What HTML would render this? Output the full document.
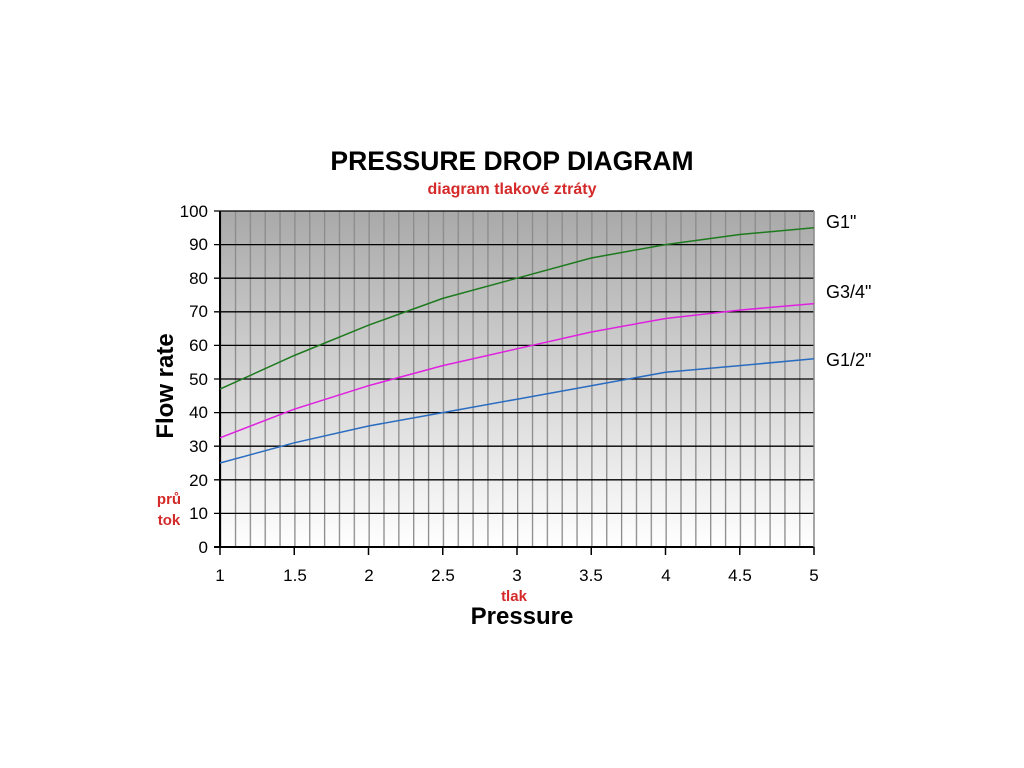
<!DOCTYPE html>
<html><head><meta charset="utf-8"><style>
html,body{margin:0;padding:0;background:#fff;width:1024px;height:768px;overflow:hidden}
</style></head><body>
<svg width="1024" height="768" xmlns="http://www.w3.org/2000/svg" font-family="Liberation Sans, Arial, sans-serif">
<defs>
<linearGradient id="bg" x1="0" y1="0" x2="0" y2="1">
<stop offset="0" stop-color="#a9a9a9"/><stop offset="1" stop-color="#ffffff"/>
</linearGradient>
<pattern id="vg" x="220" y="0" width="14.85" height="768" patternUnits="userSpaceOnUse">
<rect x="0" y="0" width="1.3" height="768" fill="#8a8a8a"/>
</pattern>
</defs>
<text x="512" y="170" text-anchor="middle" font-size="26.5" font-weight="bold">PRESSURE DROP DIAGRAM</text>
<text x="512" y="194" text-anchor="middle" font-size="16" font-weight="bold" fill="#d42a2a">diagram tlakové ztráty</text>
<rect x="220" y="211" width="594" height="336" fill="url(#bg)"/>
<rect x="220" y="211" width="594" height="336" fill="url(#vg)"/>
<g stroke="#000" stroke-width="1.3">
<line x1="214" y1="211" x2="814" y2="211"/>
<line x1="214" y1="244.6" x2="814" y2="244.6"/>
<line x1="214" y1="278.2" x2="814" y2="278.2"/>
<line x1="214" y1="311.8" x2="814" y2="311.8"/>
<line x1="214" y1="345.4" x2="814" y2="345.4"/>
<line x1="214" y1="379" x2="814" y2="379"/>
<line x1="214" y1="412.6" x2="814" y2="412.6"/>
<line x1="214" y1="446.2" x2="814" y2="446.2"/>
<line x1="214" y1="479.8" x2="814" y2="479.8"/>
<line x1="214" y1="513.4" x2="814" y2="513.4"/>
<line x1="214" y1="547" x2="814" y2="547" stroke-width="2"/>
<line x1="220" y1="211" x2="220" y2="547" stroke-width="2"/>
</g>
<line x1="814" y1="211" x2="814" y2="547" stroke="#888" stroke-width="1.5"/>
<g stroke="#000" stroke-width="1.5">
<line x1="220" y1="547" x2="220" y2="555"/><line x1="294.25" y1="547" x2="294.25" y2="555"/>
<line x1="368.5" y1="547" x2="368.5" y2="555"/><line x1="442.75" y1="547" x2="442.75" y2="555"/>
<line x1="517" y1="547" x2="517" y2="555"/><line x1="591.25" y1="547" x2="591.25" y2="555"/>
<line x1="665.5" y1="547" x2="665.5" y2="555"/><line x1="739.75" y1="547" x2="739.75" y2="555"/>
<line x1="814" y1="547" x2="814" y2="555"/>
</g>
<g font-size="17" text-anchor="end">
<text x="208" y="217">100</text><text x="208" y="250">90</text><text x="208" y="284">80</text>
<text x="208" y="317">70</text><text x="208" y="351">60</text><text x="208" y="385">50</text>
<text x="208" y="418">40</text><text x="208" y="452">30</text><text x="208" y="486">20</text>
<text x="208" y="519">10</text><text x="208" y="553">0</text>
</g>
<g font-size="17" text-anchor="middle">
<text x="220" y="581">1</text><text x="295" y="581">1.5</text><text x="369" y="581">2</text>
<text x="443" y="581">2.5</text><text x="517" y="581">3</text><text x="591" y="581">3.5</text>
<text x="666" y="581">4</text><text x="740" y="581">4.5</text><text x="814" y="581">5</text>
</g>
<text x="514" y="601" text-anchor="middle" font-size="15" font-weight="bold" fill="#d42a2a">tlak</text>
<text x="522" y="624" text-anchor="middle" font-size="24" font-weight="bold">Pressure</text>
<text transform="translate(173,386) rotate(-90)" text-anchor="middle" font-size="24" font-weight="bold">Flow rate</text>
<text x="169" y="504" text-anchor="middle" font-size="15" font-weight="bold" fill="#d42a2a">prů</text>
<text x="169" y="525" text-anchor="middle" font-size="15" font-weight="bold" fill="#d42a2a">tok</text>
<g fill="none" stroke-width="1.5">
<polyline stroke="#1e7a1e" points="220,389.1 294.25,355.5 368.5,325.2 442.75,298.4 517,278.2 591.25,258 665.5,244.6 739.75,234.5 814,227.8"/>
<polyline stroke="#e020e0" points="220,437.8 294.25,409.2 368.5,385.7 442.75,365.6 517,348.8 591.25,332 665.5,318.5 739.75,310.1 814,303.6"/>
<polyline stroke="#2a6cc0" points="220,463 294.25,442.8 368.5,426 442.75,412.6 517,399.2 591.25,385.7 665.5,372.3 739.75,365.6 814,358.8"/>
</g>
<g font-size="18">
<text x="826" y="228">G1"</text><text x="826" y="298">G3/4"</text><text x="826" y="366">G1/2"</text>
</g>
</svg>
</body></html>
